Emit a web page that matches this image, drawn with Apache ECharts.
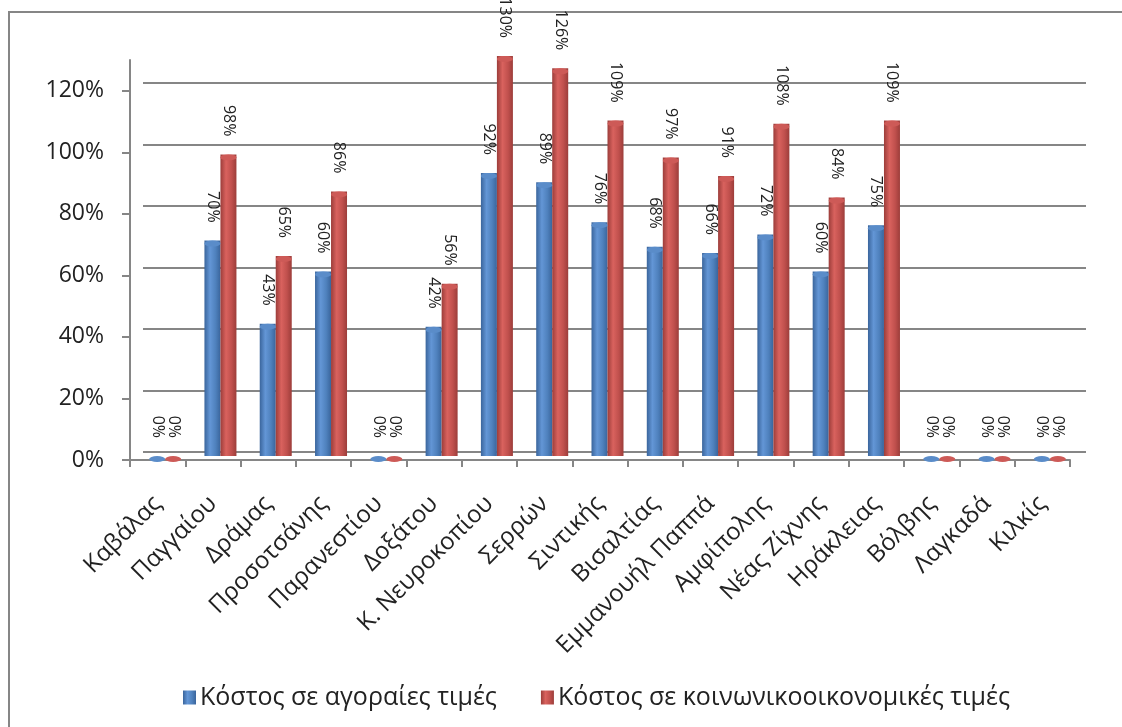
<!DOCTYPE html>
<html>
<head>
<meta charset="utf-8">
<script src="https://cdn.jsdelivr.net/npm/echarts@6/dist/echarts.min.js"></script>
<style>
    html, body { margin: 0; padding: 0; background: #fff; }
    #main { width: 1122px; height: 727px; }
</style>
</head>
<body>
<div id="main"></div>
<script>
    const categories = ['Καβάλας', 'Παγγαίου', 'Δράμας', 'Προσοτσάνης', 'Παρανεστίου', 'Δοξάτου',
        'Κ. Νευροκοπίου', 'Σερρών', 'Σιντικής', 'Βισαλτίας', 'Εμμανουήλ Παππά', 'Αμφίπολης',
        'Νέας Ζίχνης', 'Ηράκλειας', 'Βόλβης', 'Λαγκαδά', 'Κιλκίς'];
    const marketCost = [0, 0.70, 0.43, 0.60, 0, 0.42, 0.92, 0.89, 0.76, 0.68, 0.66, 0.72, 0.60, 0.75, 0, 0, 0];
    const socialCost = [0, 0.98, 0.65, 0.86, 0, 0.56, 1.30, 1.26, 1.09, 0.97, 0.91, 1.08, 0.84, 1.09, 0, 0, 0];
    const yTicks = [0, 0.2, 0.4, 0.6, 0.8, 1.0, 1.2];
    const seriesNames = ['Κόστος σε αγοραίες τιμές', 'Κόστος σε κοινωνικοοικονομικές τιμές'];

    (function() {
        var myChart = echarts.init(document.getElementById('main'));
        var font = '"Open Sans", "Noto Sans", sans-serif';
        var gray = '#868686';

        function cylinder(dark, light, mid) {
            return new echarts.graphic.LinearGradient(0, 0, 1, 0, [
                { offset: 0, color: dark },
                { offset: 0.35, color: light },
                { offset: 0.7, color: mid },
                { offset: 1, color: dark }
            ]);
        }

        var label = {
            show: true,
            position: 'top',
            rotate: -90,
            align: 'right',
            verticalAlign: 'middle',
            distance: 15,
            offset: [-3, 0],
            fontFamily: font,
            fontSize: 16,
            color: '#222',
            formatter: function(p) {
                return Math.round(p.value * 100) + '%';
            }
        };

        var option = {
            backgroundColor: '#fff',
            color: ['#4f81bd', '#c0504d'],
            graphic: [{
                type: 'rect',
                shape: { x: 9, y: 12, width: 1200, height: 800 },
                style: { fill: 'none', stroke: gray, lineWidth: 2 },
                silent: true
            }],
            legend: {
                data: seriesNames,
                left: 178,
                top: 680,
                icon: 'rect',
                itemWidth: 13,
                itemHeight: 14,
                itemGap: 44,
                textStyle: { fontFamily: font, fontSize: 25, color: '#222', padding: [0, 0, 0, -1] }
            },
            grid: [
                { left: 130, right: 52, top: 60, bottom: 267 },
                { left: 137.5, right: 44.5, top: 56, bottom: 271 },
                { left: 143, right: 36, top: 83, bottom: 275 }
            ],
            xAxis: [{
                gridIndex: 0,
                type: 'category',
                data: categories,
                axisLine: { lineStyle: { color: gray, width: 2 } },
                axisTick: { show: true, length: 7, lineStyle: { color: gray, width: 2 } },
                axisLabel: {
                    interval: 0,
                    rotate: 45,
                    margin: 40,
                    fontFamily: font,
                    fontSize: 24,
                    color: '#222'
                }
            }, {
                gridIndex: 1,
                type: 'category',
                data: categories,
                show: false
            }, {
                gridIndex: 2,
                type: 'category',
                data: categories,
                show: false
            }],
            yAxis: [{
                gridIndex: 0,
                type: 'value',
                min: 0,
                max: 1.3,
                interval: 0.2,
                axisLine: { show: true, lineStyle: { color: gray, width: 2 } },
                axisTick: { show: true, length: 8, customValues: yTicks, lineStyle: { color: gray, width: 2 } },
                splitLine: { show: false },
                axisLabel: {
                    customValues: yTicks,
                    margin: 26,
                    fontFamily: font,
                    fontSize: 23,
                    color: '#222',
                    formatter: function(v) { return Math.round(v * 100) + '%'; }
                }
            }, {
                gridIndex: 1,
                type: 'value',
                min: 0,
                max: 1.3,
                show: false
            }, {
                gridIndex: 2,
                type: 'value',
                min: 0,
                max: 1.2,
                interval: 0.2,
                axisLine: { show: false },
                axisTick: { show: false },
                axisLabel: { show: false },
                splitLine: { show: true, lineStyle: { color: gray, width: 2 } }
            }],
            series: [{
                name: seriesNames[0],
                type: 'bar',
                xAxisIndex: 1,
                yAxisIndex: 1,
                barWidth: 16,
                barGap: 0,
                itemStyle: { color: cylinder('#3a659c', '#6396d6', '#4f81bd') },
                label: label,
                data: marketCost
            }, {
                name: seriesNames[1],
                type: 'bar',
                xAxisIndex: 1,
                yAxisIndex: 1,
                barWidth: 16,
                barGap: 0,
                itemStyle: { color: cylinder('#9c3d3a', '#d9625e', '#c0504d') },
                label: label,
                data: socialCost
            }, {
                name: 'cap1',
                type: 'pictorialBar',
                xAxisIndex: 1,
                yAxisIndex: 1,
                symbol: 'circle',
                symbolSize: [16, 6],
                symbolPosition: 'end',
                symbolOffset: [-8, 0],
                itemStyle: { color: '#5a8cc9' },
                z: 3,
                data: marketCost
            }, {
                name: 'cap2',
                type: 'pictorialBar',
                xAxisIndex: 1,
                yAxisIndex: 1,
                symbol: 'circle',
                symbolSize: [16, 6],
                symbolPosition: 'end',
                symbolOffset: [8, 0],
                itemStyle: { color: '#cd5a57' },
                z: 3,
                data: socialCost
            }]
        };

        myChart.setOption(option);
    })();
</script>
</body>
</html>
